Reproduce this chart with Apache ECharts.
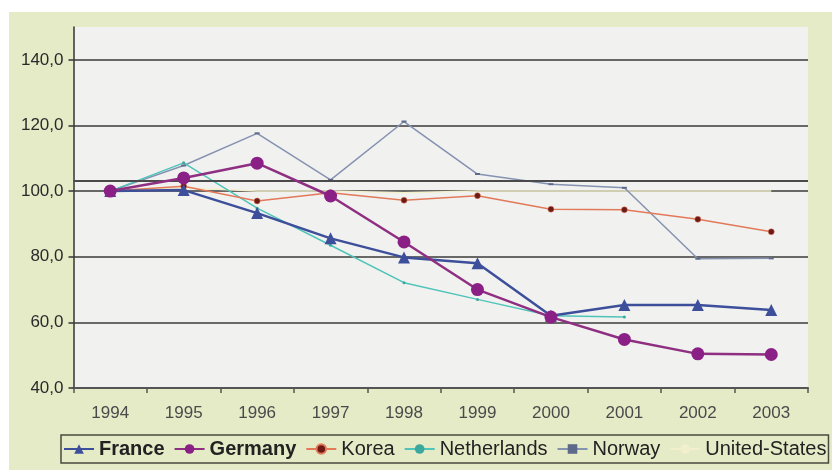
<!DOCTYPE html>
<html>
<head>
<meta charset="utf-8">
<script src="https://cdn.jsdelivr.net/npm/echarts@6/dist/echarts.min.js"></script>
<style>
  html, body { margin: 0; padding: 0; background: #ffffff; }
  #chart { width: 832px; height: 470px; }
</style>
</head>
<body>
<div id="chart"></div>
<script>
// Index values, 1994 = 100
const years = ['1994', '1995', '1996', '1997', '1998', '1999', '2000', '2001', '2002', '2003'];
const france      = [100, 100.3, 93.3, 85.6, 79.8, 78.0, 62.0, 65.3, 65.3, 63.8];
const germany     = [100, 104.0, 108.5, 98.5, 84.5, 70.0, 61.6, 54.8, 50.4, 50.2];
const korea       = [100, 101.5, 97.0, 99.5, 97.2, 98.6, 94.5, 94.3, 91.4, 87.6];
const netherlands = [100, 108.6, 94.8, 83.5, 72.1, 67.0, 62.0, 61.6, null, null];
const norway      = [100, 107.8, 117.6, 103.4, 121.2, 105.2, 102.1, 101.0, 79.4, 79.5];
const unitedStates = [100, 101, 100, 100, 99.5, 100, 100, 100, 100, 100];
const referenceLevel = 103;
const yTicks = [40, 60, 80, 100, 120, 140];

const chart = echarts.init(document.getElementById('chart'), null, { renderer: 'canvas' });

const fmt = v => v.toFixed(1).replace('.', ',');

chart.setOption({
  animation: false,
  textStyle: { fontFamily: '"Liberation Sans", Arial, sans-serif' },
  graphic: [{
    type: 'rect',
    left: 9, top: 12,
    shape: { width: 823, height: 458 },
    style: { fill: '#e5ebc7' },
    z: -10
  }],
  grid: {
    left: 73.5, right: 24, top: 27, bottom: 82,
    show: true,
    backgroundColor: '#f1f1f0',
    borderWidth: 0
  },
  legend: {
    left: 61, top: 435,
    padding: [4, 2, 4, 2],
    borderColor: '#4a4a40',
    borderWidth: 1.5,
    itemWidth: 30,
    itemHeight: 12,
    itemGap: 9,
    textStyle: { fontSize: 20, color: '#222222' },
    data: [
      { name: 'France', textStyle: { fontWeight: 'bold' } },
      { name: 'Germany', textStyle: { fontWeight: 'bold' } },
      'Korea', 'Netherlands', 'Norway', 'United-States'
    ]
  },
  xAxis: {
    type: 'category',
    data: years,
    boundaryGap: true,
    axisLine: { lineStyle: { color: '#555555', width: 2 } },
    axisTick: { show: true, length: 5, lineStyle: { color: '#555555', width: 1.5 } },
    axisLabel: { fontSize: 17, color: '#4a4a4a', margin: 17 },
    splitLine: { show: false }
  },
  yAxis: {
    type: 'value',
    min: 40, max: 150, interval: 20,
    axisLine: { show: true, lineStyle: { color: '#333333', width: 1.5 } },
    axisTick: { show: true, length: 5, lineStyle: { color: '#333333', width: 1.5 }, customValues: yTicks },
    axisLabel: { fontSize: 17, color: '#2a2a2a', margin: 10, formatter: fmt, customValues: yTicks },
    splitLine: { show: true, lineStyle: { color: '#3a3a3a', width: 1.5 } }
  },
  series: [
    {
      name: 'United-States', type: 'line', data: unitedStates,
      symbol: 'none', lineStyle: { color: '#f2efcc', width: 1.5 },
      itemStyle: { color: '#f2efcc' }, z: 1
    },
    {
      name: 'Norway', type: 'line', data: norway,
      symbol: 'rect', symbolSize: [5, 2],
      lineStyle: { color: '#8592b0', width: 1.5 },
      itemStyle: { color: '#5d6a8a' }, z: 2,
      markLine: {
        silent: true, symbol: 'none', label: { show: false },
        lineStyle: { color: '#4a4a4a', width: 2, type: 'solid' },
        data: [{ yAxis: referenceLevel }]
      }
    },
    {
      name: 'Netherlands', type: 'line', data: netherlands,
      symbol: 'circle', symbolSize: 3,
      lineStyle: { color: '#4fc4b8', width: 1.5 },
      itemStyle: { color: '#3aa89c' }, z: 3
    },
    {
      name: 'Korea', type: 'line', data: korea,
      symbol: 'circle', symbolSize: 6,
      lineStyle: { color: '#e27a5a', width: 1.5 },
      itemStyle: { color: '#6e1a14', borderColor: '#e27a5a', borderWidth: 0.5 }, z: 4
    },
    {
      name: 'France', type: 'line', data: france,
      symbol: 'triangle', symbolSize: 12,
      lineStyle: { color: '#3d4f9a', width: 2.5 },
      itemStyle: { color: '#3d4f9a' }, z: 5
    },
    {
      name: 'Germany', type: 'line', data: germany,
      symbol: 'circle', symbolSize: 13,
      lineStyle: { color: '#8f2f82', width: 2.5 },
      itemStyle: { color: '#8a1f86' }, z: 6
    }
  ]
});
</script>
</body>
</html>
